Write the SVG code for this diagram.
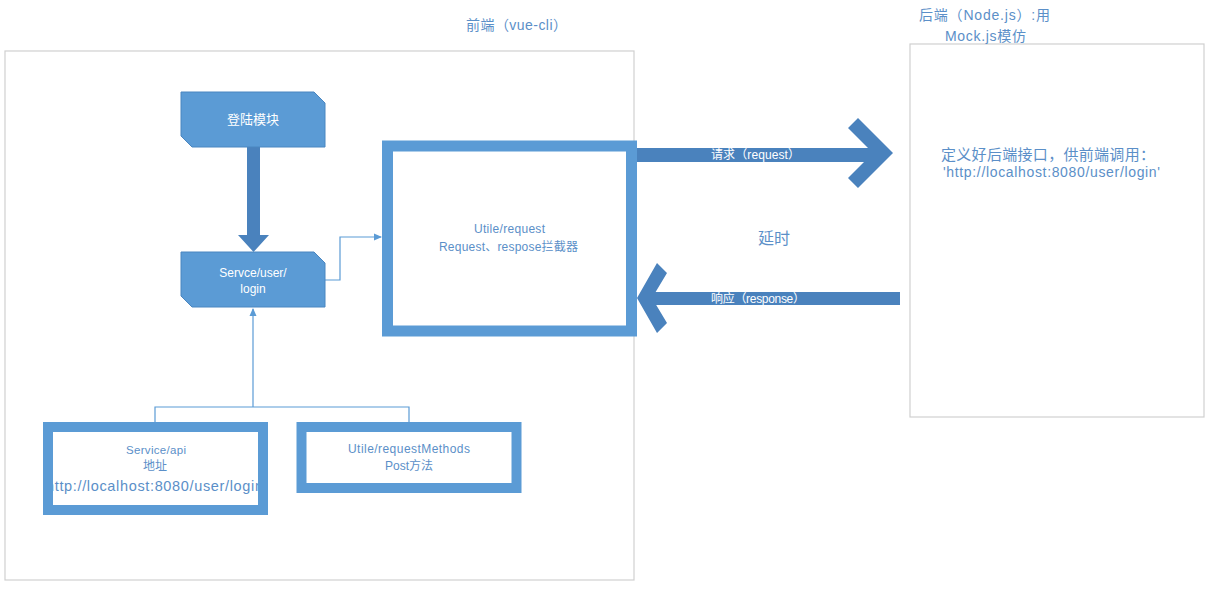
<svg xmlns="http://www.w3.org/2000/svg" width="1210" height="589" viewBox="0 0 1210 589">
<defs>
<style>
text{font-family:"Liberation Sans","Noto Sans CJK SC",sans-serif;}
.lbl{fill:#5b8fc8;}
.wt{fill:#ffffff;}
.cont{fill:#ffffff;stroke:#d0d0d0;stroke-width:1.2;}
.shape{fill:#5b9bd5;stroke:#4a86c0;stroke-width:1;}
.thick{fill:none;stroke:#5b9bd5;}
.conn{fill:none;stroke:#5b9bd5;stroke-width:1.2;}
.big{fill:#4a82bd;}
</style>
<marker id="ah" markerWidth="8" markerHeight="8" refX="7" refY="4" orient="auto" markerUnits="userSpaceOnUse">
<path d="M0,0.5 L8,4 L0,7.5 Z" fill="#5b9bd5"/>
</marker>
</defs>
<rect width="1210" height="589" fill="#ffffff"/>

<g id="frontend">
<rect class="cont" x="5" y="51" width="629" height="529"/>
<text class="lbl" x="466" y="30" font-size="14" textLength="101" lengthAdjust="spacing">前端（vue-cli）</text>
</g>

<g id="backend">
<rect class="cont" x="910" y="44" width="294" height="373"/>
<text class="lbl" x="919" y="20" font-size="14" textLength="131" lengthAdjust="spacing">后端（Node.js）:用</text>
<text class="lbl" x="945" y="41" font-size="14" textLength="81" lengthAdjust="spacing">Mock.js模仿</text>
<text class="lbl" x="941" y="160" font-size="15" textLength="214" lengthAdjust="spacing">定义好后端接口，供前端调用：</text>
<text class="lbl" x="943" y="177" font-size="14" textLength="217" lengthAdjust="spacing">'http://localhost:8080/user/login'</text>
</g>

<g id="connectors">
<path class="big" d="M247,147 H260 V235 H269 L253.5,252 L238,235 H247 Z"/>
<polyline class="conn" points="325,280 340,280 340,237 381,237" marker-end="url(#ah)"/>
<polyline class="conn" points="155,422 155,407 409,407 409,422"/>
<line class="conn" x1="253" y1="407" x2="253" y2="309" marker-end="url(#ah)"/>
<g id="request-arrow">
<rect class="big" x="637" y="148" width="240" height="14"/>
<polygon class="big" points="848,128 858,118 893,153 858,188 848,178 873,153"/>
<text class="wt" x="711" y="159" font-size="12" textLength="89" lengthAdjust="spacing">请求（request）</text>
</g>
<g id="response-arrow">
<rect class="big" x="650" y="292" width="250" height="13"/>
<polygon class="big" points="667,273 657,263 637,298 657,333 667,323 652,298"/>
<text class="wt" x="711" y="303" font-size="12" textLength="94" lengthAdjust="spacing">响应（response）</text>
</g>
<text class="lbl" x="758" y="244" font-size="16" textLength="32" lengthAdjust="spacing">延时</text>
</g>

<g id="login-module">
<path class="shape" d="M181,92 H314 L325,103 V147 H192 L181,136 Z"/>
<text class="wt" x="253" y="124" font-size="13" text-anchor="middle">登陆模块</text>
</g>

<g id="servce-user-login">
<path class="shape" d="M181,252 H314 L325,263 V307 H192 L181,296 Z"/>
<text class="wt" x="253" y="277" font-size="12" text-anchor="middle">Servce/user/</text>
<text class="wt" x="253" y="293" font-size="12" text-anchor="middle">login</text>
</g>

<g id="utile-request">
<rect x="387.5" y="146" width="244" height="185" fill="#ffffff"/>
<rect class="thick" x="387.5" y="146" width="244" height="185" stroke-width="11"/>
<text class="lbl" x="474" y="233" font-size="12" textLength="71" lengthAdjust="spacing">Utile/request</text>
<text class="lbl" x="439" y="251" font-size="12" textLength="139" lengthAdjust="spacing">Request、respose拦截器</text>
</g>

<g id="service-api">
<rect x="48" y="427" width="215" height="83" fill="#ffffff"/>
<text class="lbl" x="126" y="454" font-size="11.5" textLength="60" lengthAdjust="spacing">Service/api</text>
<text class="lbl" x="155" y="470" font-size="12" text-anchor="middle">地址</text>
<text class="lbl" x="46" y="491" font-size="14.5" textLength="217" lengthAdjust="spacing">http://localhost:8080/user/login</text>
<rect class="thick" x="48" y="427" width="215" height="83" stroke-width="10"/>
</g>

<g id="utile-requestmethods">
<rect x="301.5" y="427" width="215" height="61" fill="#ffffff"/>
<rect class="thick" x="301.5" y="427" width="215" height="61" stroke-width="10"/>
<text class="lbl" x="348" y="453" font-size="12" textLength="122" lengthAdjust="spacing">Utile/requestMethods</text>
<text class="lbl" x="385" y="470" font-size="12" textLength="48" lengthAdjust="spacing">Post方法</text>
</g>
</svg>
